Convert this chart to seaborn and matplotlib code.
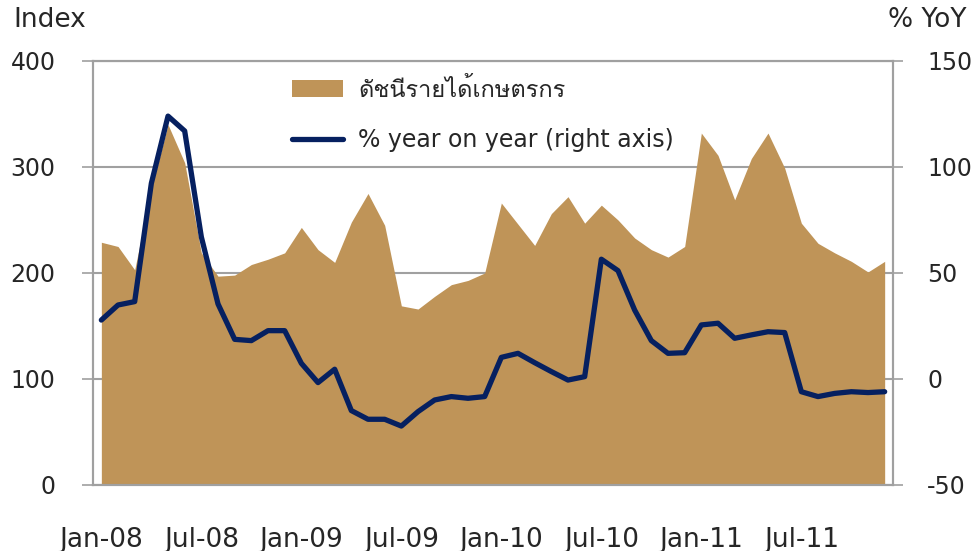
import numpy as np
import pandas as pd
import seaborn as sns
import matplotlib.pyplot as plt
from matplotlib import font_manager
from matplotlib.ft2font import FT2Font
from matplotlib.patches import Patch
from matplotlib.lines import Line2D

sns.set_style('white')

# find a font that has Thai glyphs
thai_font = None
for f in font_manager.fontManager.ttflist:
    try:
        if ord('ด') in FT2Font(f.fname).get_charmap():
            thai_font = f.name
            break
    except Exception:
        pass
families = ['DejaVu Sans'] + ([thai_font] if thai_font else [])
plt.rcParams['font.family'] = families
plt.rcParams['axes.unicode_minus'] = False

months = pd.date_range('2008-01-01', '2011-12-01', freq='MS')
month_labels = [d.strftime('%b-%y') for d in months]

income_index = [229, 225, 203, 280, 340, 304, 219, 197, 198, 208, 213, 219,
                243, 222, 210, 248, 275, 245, 169, 166, 178, 189, 193, 200,
                266, 246, 226, 256, 272, 247, 264, 250, 233, 222, 215, 225,
                332, 311, 269, 308, 332, 299, 247, 228, 219, 211, 201, 211]

yoy_pct = [27.8, 34.9, 36.5, 92.3, 124.0, 117.0, 67.0, 35.4, 18.7, 18.1, 22.8, 22.8,
           7.4, -1.7, 4.6, -14.9, -19.0, -19.0, -22.2, -15.4, -9.9, -8.3, -9.1, -8.3,
           10.2, 12.1, 7.7, 3.5, -0.5, 1.1, 56.5, 51.1, 32.5, 18.1, 12.1, 12.4,
           25.5, 26.3, 19.2, 20.8, 22.3, 21.9, -6.0, -8.3, -6.8, -6.0, -6.4, -6.0]

df = pd.DataFrame({'pos': np.arange(len(months)), 'label': month_labels,
                   'index': income_index, 'yoy': yoy_pct})

AREA = '#BF9458'
LINE = '#062060'
GRID = '#A0A0A0'

fig = plt.figure(figsize=(9.75, 5.51), dpi=100)
ax = fig.add_axes([0.0954, 0.1198, 0.8205, 0.7695])
ax2 = ax.twinx()

ax.fill_between(df['pos'], df['index'], 0, color=AREA, linewidth=0, zorder=2)
ax.set_ylim(0, 400)
ax.set_yticks([0, 100, 200, 300, 400])
ax.set_xlim(-0.5, len(months) - 0.5)
ax.yaxis.grid(True, color=GRID, linewidth=1.5, zorder=0)
ax.set_axisbelow(True)

sns.lineplot(data=df, x='pos', y='yoy', color=LINE, linewidth=3.8, ax=ax2,
             legend=False)
ax2.set_ylim(-50, 150)
ax2.set_yticks([-50, 0, 50, 100, 150])
ax2.set_xlim(-0.5, len(months) - 0.5)
ax2.set_ylabel('')
ax2.set_xlabel('')

ax.set_xticks(df['pos'][::6])
ax.set_xticklabels(df['label'][::6])
ax.set_xticks(np.arange(-0.5, len(months)), minor=True)
ax.tick_params(axis='x', which='major', length=0, pad=30, labelsize=19)
ax.tick_params(axis='x', which='minor', length=8.5, width=1.2, color=GRID, direction='out')
ax.tick_params(axis='y', length=8, width=1.2, color=GRID, pad=19, labelsize=17)
ax2.tick_params(axis='y', length=7.5, width=1.2, color=GRID, pad=17, labelsize=17)
for a in (ax, ax2):
    for s in a.spines.values():
        s.set_color(GRID)
        s.set_linewidth(1.5)

fig.text(0.0133, 0.964, 'Index', fontsize=19, va='center', ha='left')
fig.text(0.911, 0.964, '% YoY', fontsize=19, va='center', ha='left')

handles = [Patch(facecolor=AREA, edgecolor='none', label='ดัชนีรายได้เกษตรกร'),
           Line2D([0], [0], color=LINE, linewidth=3.8, label='% year on year (right axis)')]
ax2.legend(handles=handles, loc='upper left', bbox_to_anchor=(0.249, 0.960),
           frameon=False, fontsize=17, handlelength=2.16, handleheight=0.76,
           labelspacing=1.12, handletextpad=0.63, borderpad=0, borderaxespad=0)

ax.set_ylabel('')
ax.set_xlabel('')
fig.savefig('out.png', dpi=100)
